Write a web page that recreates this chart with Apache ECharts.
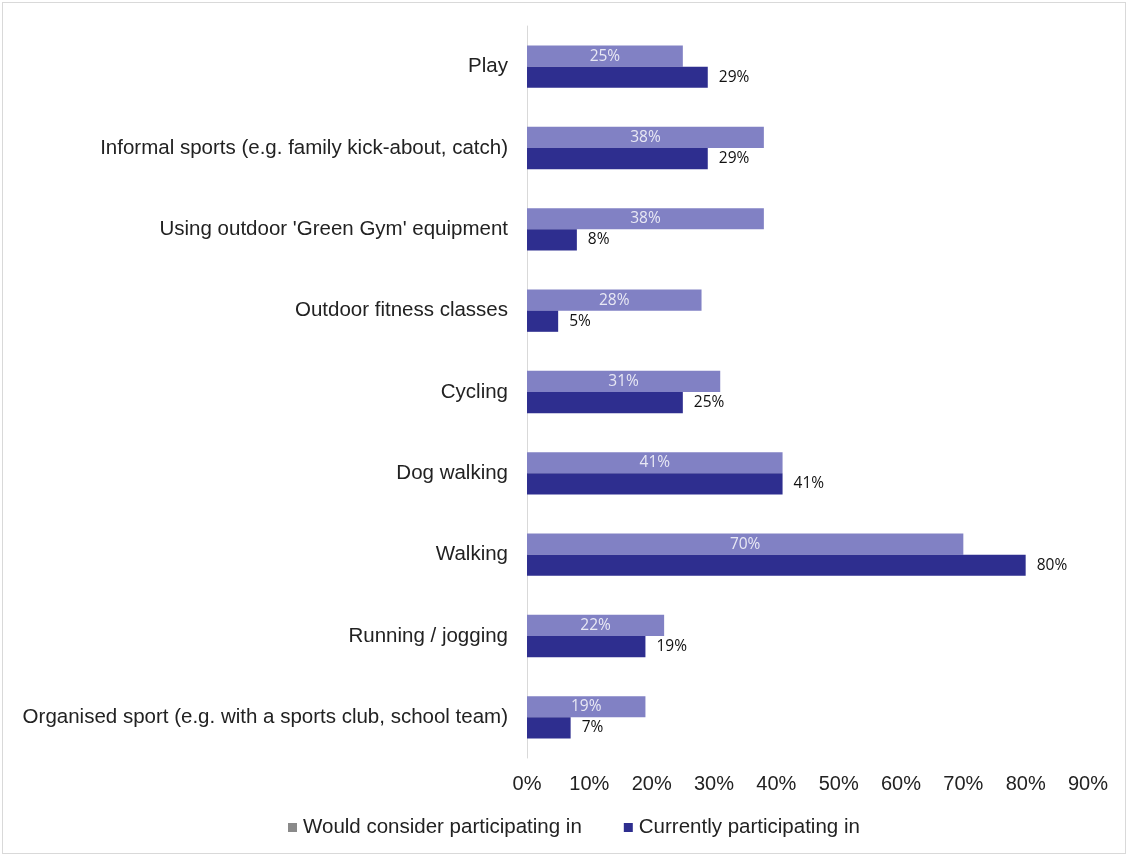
<!DOCTYPE html>
<html><head><meta charset="utf-8">
<script src="https://cdn.jsdelivr.net/npm/echarts@6/dist/echarts.min.js"></script>
<style>
html,body{margin:0;padding:0;background:#fff;}
#c{position:absolute;left:2px;top:2px;width:1124px;height:852px;border:1px solid #d9d9d9;box-sizing:border-box;}
</style></head>
<body><div id="c"></div>
<script>
const categories = [
  "Play",
  "Informal sports (e.g. family kick-about, catch)",
  "Using outdoor 'Green Gym' equipment",
  "Outdoor fitness classes",
  "Cycling",
  "Dog walking",
  "Walking",
  "Running / jogging",
  "Organised sport (e.g. with a sports club, school team)"
];
const wouldConsider = [25, 38, 38, 28, 31, 41, 70, 22, 19];
const currently = [29, 29, 8, 5, 25, 41, 80, 19, 7];
const seriesNames = ["Would consider participating in", "Currently participating in"];

const chart = echarts.init(document.getElementById('c'));
chart.setOption({
  animation: false,
  textStyle: { fontFamily: "Liberation Sans, Arial, sans-serif" },
  grid: { left: 524, right: 37, top: 23, bottom: 95 },
  legend: {
    bottom: 10, left: 280,
    icon: 'rect',
    itemWidth: 9, itemHeight: 9, itemGap: 42,
    textStyle: { fontSize: 20.5, color: '#222', fontFamily: "Liberation Sans, Arial, sans-serif", padding: [0, 0, 0, 1] },
    data: [
      { name: seriesNames[0], itemStyle: { color: '#8a8a8a' } },
      { name: seriesNames[1], itemStyle: { color: '#2e2e8f' } }
    ]
  },
  xAxis: {
    type: 'value', min: 0, max: 90, interval: 10,
    axisLine: { show: false }, axisTick: { show: false },
    splitLine: { show: false },
    axisLabel: { formatter: '{value}%', fontSize: 20, color: '#222', margin: 16 }
  },
  yAxis: {
    type: 'category', data: categories, inverse: true,
    axisLine: { show: true, lineStyle: { color: '#d9d9d9' } },
    axisTick: { show: false },
    axisLabel: { fontSize: 20.5, color: '#222', margin: 19, padding: [4, 0, 0, 0] }
  },
  series: [
    {
      name: seriesNames[0], type: 'bar', data: wouldConsider,
      barGap: '0%', barCategoryGap: '48%',
      itemStyle: { color: '#8181c4' },
      label: { show: true, position: 'inside', formatter: '{c}%', color: '#e8e8f4', fontSize: 15.5, fontFamily: "Open Sans, Noto Sans, sans-serif" }
    },
    {
      name: seriesNames[1], type: 'bar', data: currently,
      barGap: '0%', barCategoryGap: '48%',
      itemStyle: { color: '#2e2e8f' },
      label: { show: true, position: 'right', distance: 11, formatter: '{c}%', color: '#111', fontSize: 15.5, fontFamily: "Open Sans, Noto Sans, sans-serif" }
    }
  ]
});
</script></body></html>
